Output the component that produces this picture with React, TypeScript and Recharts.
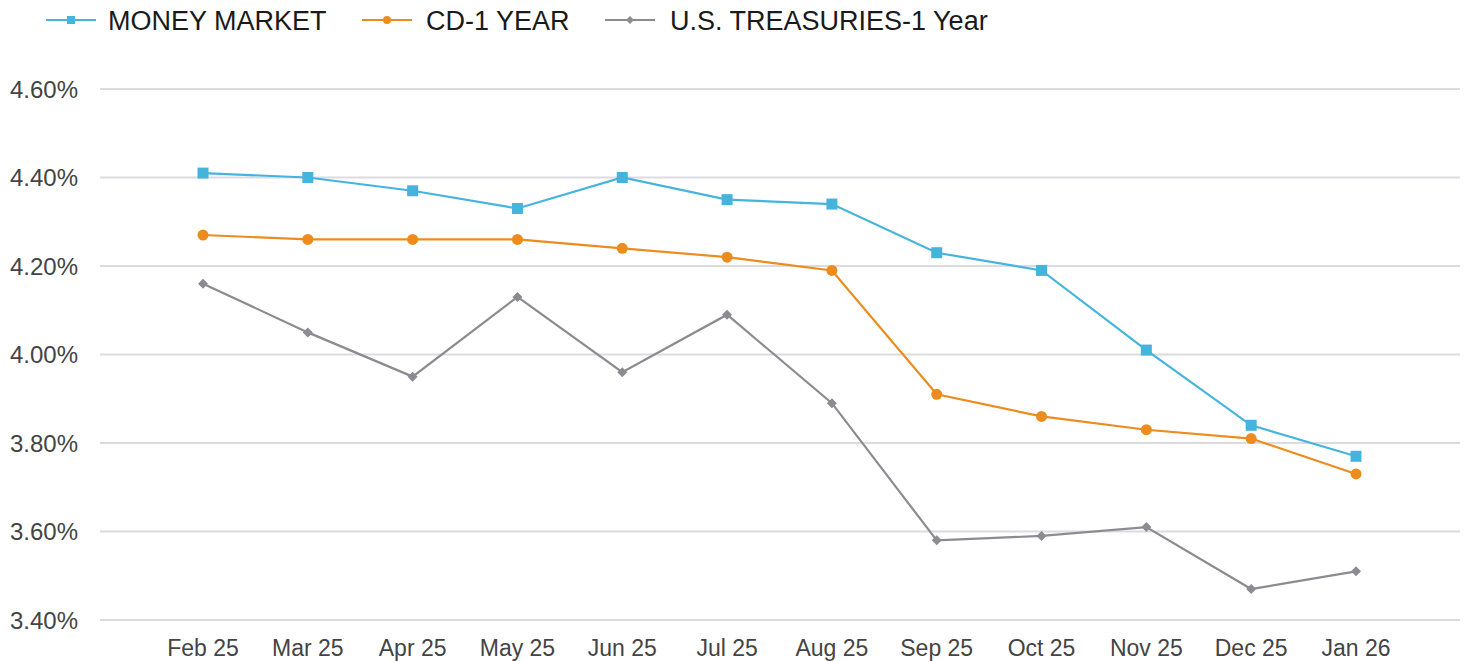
import { LineChart, Line, XAxis, YAxis, CartesianGrid } from "recharts";

const MONTHS = ["Feb 25", "Mar 25", "Apr 25", "May 25", "Jun 25", "Jul 25", "Aug 25", "Sep 25", "Oct 25", "Nov 25", "Dec 25", "Jan 26"];
const MONEY_MARKET = [4.41, 4.40, 4.37, 4.33, 4.40, 4.35, 4.34, 4.23, 4.19, 4.01, 3.84, 3.77];
const CD_1_YEAR = [4.27, 4.26, 4.26, 4.26, 4.24, 4.22, 4.19, 3.91, 3.86, 3.83, 3.81, 3.73];
const TREASURIES_1_YEAR = [4.16, 4.05, 3.95, 4.13, 3.96, 4.09, 3.89, 3.58, 3.59, 3.61, 3.47, 3.51];
const Y_TICKS = [3.4, 3.6, 3.8, 4.0, 4.2, 4.4, 4.6];

const BLUE = "#45b4dd";
const ORANGE = "#ec8c1f";
const GRAY = "#8b8b91";
const FONT = '"Liberation Sans", Arial, sans-serif';

const data = MONTHS.map((month, i) => ({
  month,
  mm: MONEY_MARKET[i],
  cd: CD_1_YEAR[i],
  ust: TREASURIES_1_YEAR[i],
}));

// marker shapes for each series
function Square(props: any) {
  const { cx, cy, fill, size = 11 } = props;
  if (cx == null || cy == null) return null;
  return <rect x={cx - size / 2} y={cy - size / 2} width={size} height={size} fill={fill} />;
}

function Circle(props: any) {
  const { cx, cy, fill, size = 11 } = props;
  if (cx == null || cy == null) return null;
  return <circle cx={cx} cy={cy} r={size / 2} fill={fill} />;
}

function Diamond(props: any) {
  const { cx, cy, fill, size = 10 } = props;
  if (cx == null || cy == null) return null;
  const h = size / 2;
  return <path d={`M${cx},${cy - h}L${cx + h},${cy}L${cx},${cy + h}L${cx - h},${cy}Z`} fill={fill} />;
}

const LEGEND = [
  { label: "MONEY MARKET", color: BLUE, Marker: Square, x: 46, textX: 108 },
  { label: "CD-1 YEAR", color: ORANGE, Marker: Circle, x: 362, textX: 426 },
  { label: "U.S. TREASURIES-1 Year", color: GRAY, Marker: Diamond, x: 605, textX: 670 },
];

function ChartLegend() {
  return (
    <svg width={1473} height={45} style={{ position: "absolute", left: 0, top: 0 }}>
      {LEGEND.map(({ label, color, Marker, x, textX }) => (
        <g key={label}>
          <line x1={x} y1={20} x2={x + 50} y2={20} stroke={color} strokeWidth={2} />
          <Marker cx={x + 25} cy={20} fill={color} size={8} />
          <text x={textX} y={20} dy="0.36em" fontSize={27} fill="#1a1a1a" fontFamily={FONT}>
            {label}
          </text>
        </g>
      ))}
    </svg>
  );
}

export default function App() {
  return (
    <div style={{ position: "relative", width: 1473, height: 661, background: "#fff" }}>
      <style>{`body { margin: 0; }`}</style>
      <ChartLegend />
      <LineChart
        width={1473}
        height={661}
        data={data}
        margin={{ top: 89, right: 13, bottom: 0, left: 0 }}
      >
        <CartesianGrid vertical={false} stroke="#dcdcdf" strokeWidth={2} />
        <XAxis
          dataKey="month"
          height={41}
          padding={{ left: 103, right: 104 }}
          axisLine={false}
          tickLine={false}
          tickSize={0}
          tickMargin={20}
          interval={0}
          tick={{ fontSize: 23, fill: "#444", fontFamily: FONT }}
        />
        <YAxis
          width={100}
          domain={[3.4, 4.6]}
          ticks={Y_TICKS}
          axisLine={false}
          tickLine={false}
          tickSize={0}
          tickMargin={22}
          tickFormatter={(v: number) => `${v.toFixed(2)}%`}
          tick={{ fontSize: 24, fill: "#444", fontFamily: FONT }}
        />
        <Line
          dataKey="mm"
          stroke={BLUE}
          strokeWidth={2.2}
          dot={(p: any) => <Square key={p.index} cx={p.cx} cy={p.cy} fill={BLUE} />}
          isAnimationActive={false}
        />
        <Line
          dataKey="cd"
          stroke={ORANGE}
          strokeWidth={2.2}
          dot={(p: any) => <Circle key={p.index} cx={p.cx} cy={p.cy} fill={ORANGE} />}
          isAnimationActive={false}
        />
        <Line
          dataKey="ust"
          stroke={GRAY}
          strokeWidth={2.2}
          dot={(p: any) => <Diamond key={p.index} cx={p.cx} cy={p.cy} fill={GRAY} />}
          isAnimationActive={false}
        />
      </LineChart>
    </div>
  );
}
